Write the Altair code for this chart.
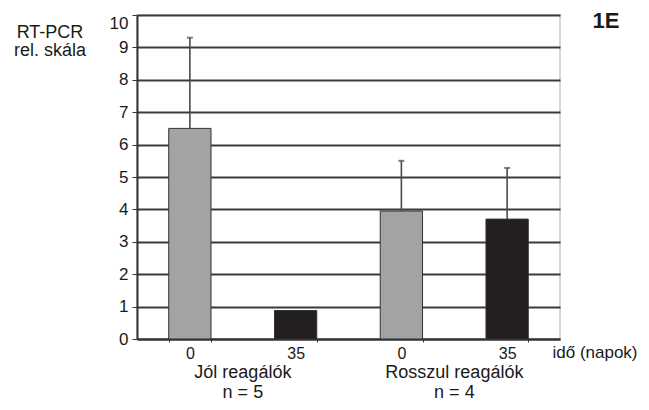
import altair as alt
import pandas as pd

# ---- data ----
categories = ["j0", "j35", "r0", "r35"]
tick_labels = ["0", "35", "0", "35"]
days = ["0", "35", "0", "35"]
values = [6.5, 0.88, 3.95, 3.7]
err_top = [9.3, None, 5.5, 5.28]

group_first = ["j0", "r0"]
group_labels = ["Jól reagálók", "Rosszul reagálók"]
n_labels = ["n = 5", "n = 4"]

y_ticks = list(range(0, 11))

df = pd.DataFrame({"cat": categories, "value": values, "err": err_top, "day": days})
gdf = pd.DataFrame({"cat": group_first, "group": group_labels, "n": n_labels})

FONT = "Liberation Sans"
W, H = 423, 324
TXT = "#1a1a1a"

label_expr = (
    "[" + ",".join(f"'{t}'" for t in tick_labels) + "]"
    "[indexof([" + ",".join(f"'{c}'" for c in categories) + "], datum.value)]"
)

x_axis = alt.Axis(
    title=None,
    labelExpr=label_expr,
    labelAngle=0,
    labelFontSize=16,
    labelBaseline="alphabetic",
    labelPadding=16,
    tickSize=3,
    tickBand="extent",
    tickColor="#333333",
    domainColor="#333333",
    domainWidth=2,
    labelColor=TXT,
    labelFont=FONT,
    grid=False,
)
x_scale = alt.Scale(domain=categories, paddingInner=0.6, paddingOuter=0.3)

y_axis = alt.Axis(
    title=None,
    values=y_ticks,
    labelFontSize=17,
    labelFont=FONT,
    labelColor=TXT,
    labelPadding=4,
    labelOverlap=False,
    labelBaseline={"condition": {"test": "datum.value == 10", "value": "top"}, "value": "middle"},
    tickSize=5,
    tickColor="#333333",
    domainColor="#333333",
    domainWidth=2,
    grid=True,
    gridColor="#3a3a3a",
    gridWidth=2,
    labelBound=False,
)
y_scale = alt.Scale(domain=[0, 10], nice=False)


def X():
    return alt.X("cat:N", sort=categories, scale=x_scale, axis=x_axis)


bars = alt.Chart(df).mark_bar(stroke="#333333", strokeWidth=1).encode(
    x=X(),
    y=alt.Y("value:Q", scale=y_scale, axis=y_axis),
    color=alt.Color(
        "day:N",
        scale=alt.Scale(domain=["0", "35"], range=["#a3a3a3", "#231f20"]),
        legend=None,
    ),
)

err_rule = (
    alt.Chart(df)
    .transform_filter("isValid(datum.err)")
    .mark_rule(color="#4a4a4a", strokeWidth=1.6)
    .encode(x=X(), y=alt.Y("value:Q", scale=y_scale, axis=y_axis), y2="err:Q")
)

err_cap = (
    alt.Chart(df)
    .transform_filter("isValid(datum.err)")
    .mark_tick(color="#4a4a4a", size=6, thickness=2, orient="horizontal")
    .encode(x=X(), y=alt.Y("err:Q", scale=y_scale, axis=y_axis))
)

group_text = alt.Chart(gdf).mark_text(
    dx=53, baseline="alphabetic", align="center", fontSize=18, font=FONT, color=TXT
).encode(x=X(), y=alt.value(363), text="group:N")

n_text = alt.Chart(gdf).mark_text(
    dx=53, baseline="alphabetic", align="center", fontSize=18, font=FONT, color=TXT
).encode(x=X(), y=alt.value(383), text="n:N")

one = pd.DataFrame({"k": [0]})

y_title = alt.Chart(one).mark_text(
    text=["RT-PCR", "rel. skála"],
    baseline="alphabetic",
    align="center",
    fontSize=18,
    lineHeight=18,
    font=FONT,
    color=TXT,
).encode(x=alt.value(-87), y=alt.value(23))

panel_tag = alt.Chart(one).mark_text(
    text="1E", baseline="alphabetic", align="center", fontSize=22, fontWeight="bold",
    font=FONT, color=TXT,
).encode(x=alt.value(469), y=alt.value(13))

x_unit = alt.Chart(one).mark_text(
    text="idő (napok)", baseline="alphabetic", align="center", fontSize=17,
    font=FONT, color=TXT,
).encode(x=alt.value(458), y=alt.value(343))

chart = (
    alt.layer(bars, err_rule, err_cap, group_text, n_text, y_title, panel_tag, x_unit)
    .properties(
        width=W,
        height=H,
        autosize="none",
        padding={"left": 129, "top": 7, "right": 81, "bottom": 63},
        background="white",
    )
    .configure_view(stroke="#c8c8c8", strokeWidth=1.5)
)

chart.save("out.html", embed_options={"renderer": "svg", "actions": False})
